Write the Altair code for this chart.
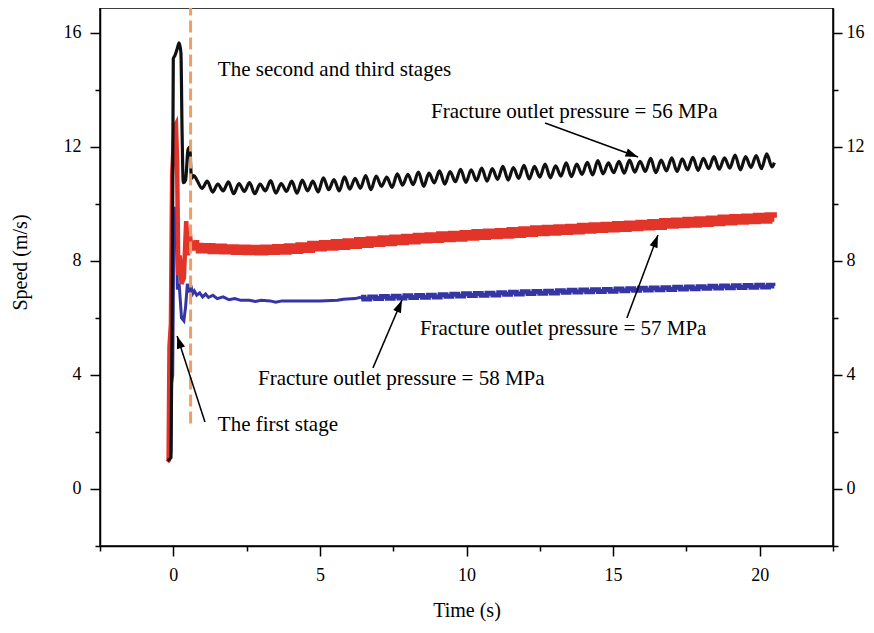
import altair as alt
import pandas as pd

FONT = "Liberation Serif"

# ---------------- data ----------------
black_t = [-0.20, -0.08, -0.04, 0.00, 0.05, 0.12, 0.20, 0.26, 0.30, 0.34, 0.42, 0.50, 0.56, 0.62, 0.70,
           0.80, 0.98, 1.16, 1.34, 1.52, 1.70, 1.88, 2.06, 2.24, 2.42,
           2.60, 2.78, 2.96, 3.14, 3.32, 3.50, 3.68, 3.86, 4.04, 4.22,
           4.40, 4.58, 4.76, 4.94, 5.12, 5.30, 5.48, 5.66, 5.84, 6.02,
           6.20, 6.38, 6.56, 6.74, 6.92, 7.10, 7.28, 7.46, 7.64, 7.82,
           8.00, 8.18, 8.36, 8.54, 8.72, 8.90, 9.08, 9.26, 9.44, 9.62,
           9.80, 9.98, 10.16, 10.34, 10.52, 10.70, 10.88, 11.06, 11.24, 11.42,
           11.60, 11.78, 11.96, 12.14, 12.32, 12.50, 12.68, 12.86, 13.04, 13.22,
           13.40, 13.58, 13.76, 13.94, 14.12, 14.30, 14.48, 14.66, 14.84, 15.02,
           15.20, 15.38, 15.56, 15.74, 15.92, 16.10, 16.28, 16.46, 16.64, 16.82,
           17.00, 17.18, 17.36, 17.54, 17.72, 17.90, 18.08, 18.26, 18.44, 18.62,
           18.80, 18.98, 19.16, 19.34, 19.52, 19.70, 19.88, 20.06, 20.24, 20.42,
           20.50]
black_v = [1.0, 1.1, 6.0, 15.1, 15.2, 15.4, 15.65, 15.3, 12.5, 10.75, 10.85, 11.9, 12.0, 10.9, 11.0,
           10.85, 10.55, 10.80, 10.42, 10.70, 10.46, 10.78, 10.36, 10.72, 10.44,
           10.75, 10.36, 10.70, 10.46, 10.82, 10.38, 10.72, 10.44, 10.80, 10.38,
           10.84, 10.46, 10.80, 10.42, 10.92, 10.50, 10.86, 10.46, 10.95, 10.52,
           10.90, 10.55, 11.00, 10.50, 10.98, 10.62, 10.94, 10.58, 11.06, 10.66,
           11.04, 10.68, 11.12, 10.62, 11.08, 10.74, 11.16, 10.70, 11.14, 10.78,
           11.22, 10.76, 11.20, 10.82, 11.26, 10.80, 11.24, 10.86, 11.32, 10.84,
           11.28, 10.90, 11.36, 10.88, 11.32, 10.94, 11.40, 10.92, 11.34, 10.98,
           11.44, 10.96, 11.40, 11.04, 11.46, 11.02, 11.52, 11.06, 11.44, 11.10,
           11.50, 11.08, 11.54, 11.12, 11.50, 11.14, 11.60, 11.10, 11.54, 11.16,
           11.62, 11.14, 11.58, 11.20, 11.64, 11.18, 11.60, 11.24, 11.66, 11.22,
           11.62, 11.26, 11.72, 11.20, 11.66, 11.28, 11.70, 11.24, 11.76, 11.30,
           11.45]

red_t = [-0.20, -0.16, -0.13, -0.08, -0.04, 0.04, 0.09, 0.13, 0.17, 0.22, 0.28, 0.36, 0.44, 0.50, 0.56, 0.62, 0.70,
         0.8, 1.0, 1.2, 1.4, 1.6, 1.8, 2.0, 2.2, 2.4, 2.6,
         2.8, 3.0, 3.2, 3.4, 3.6, 3.8, 4.0, 4.2, 4.4, 4.6,
         4.8, 5.0, 5.2, 5.4, 5.6, 5.8, 6.0, 6.2, 6.4, 6.6,
         6.8, 7.0, 7.2, 7.4, 7.6, 7.8, 8.0, 8.2, 8.4, 8.6,
         8.8, 9.0, 9.2, 9.4, 9.6, 9.8, 10.0, 10.2, 10.4, 10.6,
         10.8, 11.0, 11.2, 11.4, 11.6, 11.8, 12.0, 12.2, 12.4, 12.6,
         12.8, 13.0, 13.2, 13.4, 13.6, 13.8, 14.0, 14.2, 14.4, 14.6,
         14.8, 15.0, 15.2, 15.4, 15.6, 15.8, 16.0, 16.2, 16.4, 16.6,
         16.8, 17.0, 17.2, 17.4, 17.6, 17.8, 18.0, 18.2, 18.4, 18.6,
         18.8, 19.0, 19.2, 19.4, 19.6, 19.8, 20.0, 20.2, 20.4,
         20.5]
red_v = [0.95, 1.0, 5.0, 5.8, 11.0, 12.7, 12.8, 11.5, 7.5, 8.2, 7.2, 7.4, 9.4, 8.2, 9.0, 8.4, 8.6,
         8.50, 8.40, 8.49, 8.38, 8.47, 8.37, 8.45, 8.35, 8.44, 8.34,
         8.43, 8.33, 8.44, 8.35, 8.46, 8.36, 8.48, 8.39, 8.52, 8.42,
         8.57, 8.47, 8.60, 8.50, 8.63, 8.53, 8.66, 8.56, 8.70, 8.60,
         8.73, 8.63, 8.76, 8.66, 8.79, 8.69, 8.82, 8.72, 8.85, 8.75,
         8.87, 8.77, 8.90, 8.80, 8.92, 8.82, 8.95, 8.85, 8.98, 8.88,
         9.00, 8.90, 9.02, 8.92, 9.05, 8.95, 9.08, 8.98, 9.11, 9.01,
         9.13, 9.03, 9.15, 9.05, 9.17, 9.07, 9.20, 9.10, 9.22, 9.12,
         9.24, 9.14, 9.26, 9.16, 9.28, 9.18, 9.31, 9.21, 9.33, 9.23,
         9.37, 9.27, 9.39, 9.29, 9.41, 9.31, 9.43, 9.33, 9.46, 9.36,
         9.49, 9.39, 9.51, 9.41, 9.53, 9.43, 9.55, 9.45, 9.57,
         9.52]

blue_t = [-0.10, -0.08, -0.06, -0.02, 0.02, 0.06, 0.10, 0.14, 0.20, 0.28, 0.36, 0.42, 0.48, 0.54, 0.60, 0.66, 0.72, 0.80,
          0.9, 1.0, 1.1, 1.2, 1.35, 1.5, 1.7, 1.9, 2.1, 2.3, 2.6, 2.8, 3.0, 3.3, 3.5, 3.7, 4.5, 5.0, 5.6, 5.8, 6.2,
          6.4, 6.6, 6.8, 7.0, 7.2, 7.4, 7.6, 7.8, 8.0, 8.2,
          8.4, 8.6, 8.8, 9.0, 9.2, 9.4, 9.6, 9.8, 10.0, 10.2,
          10.4, 10.6, 10.8, 11.0, 11.2, 11.4, 11.6, 11.8, 12.0, 12.2,
          12.4, 12.6, 12.8, 13.0, 13.2, 13.4, 13.6, 13.8, 14.0, 14.2,
          14.4, 14.6, 14.8, 15.0, 15.2, 15.4, 15.6, 15.8, 16.0, 16.2,
          16.4, 16.6, 16.8, 17.0, 17.2, 17.4, 17.6, 17.8, 18.0, 18.2,
          18.4, 18.6, 18.8, 19.0, 19.2, 19.4, 19.6, 19.8, 20.0, 20.2, 20.4,
          20.5]
blue_v = [1.2, 1.3, 3.7, 4.0, 9.2, 9.9, 9.6, 7.0, 7.2, 6.0, 5.9, 6.4, 7.2, 6.9, 7.15, 6.85, 6.95, 6.80,
          6.88, 6.74, 6.84, 6.72, 6.80, 6.68, 6.74, 6.64, 6.68, 6.62, 6.62, 6.58, 6.62, 6.60, 6.55, 6.60, 6.60, 6.60, 6.62, 6.66, 6.68,
          6.73, 6.67, 6.74, 6.68, 6.75, 6.69, 6.76, 6.70, 6.78, 6.72,
          6.79, 6.73, 6.80, 6.74, 6.82, 6.76, 6.83, 6.77, 6.85, 6.79,
          6.86, 6.80, 6.87, 6.81, 6.89, 6.83, 6.90, 6.84, 6.92, 6.86,
          6.93, 6.87, 6.94, 6.88, 6.96, 6.90, 6.97, 6.91, 6.98, 6.92,
          6.99, 6.93, 7.00, 6.94, 7.02, 6.96, 7.03, 6.97, 7.04, 6.98,
          7.05, 6.99, 7.06, 7.00, 7.08, 7.02, 7.09, 7.03, 7.10, 7.04,
          7.11, 7.05, 7.12, 7.06, 7.13, 7.07, 7.14, 7.08, 7.15, 7.09, 7.15,
          7.12]

x_major = [0, 5, 10, 15, 20]
x_minor = [-2.5, 2.5, 7.5, 12.5, 17.5, 22.5]
y_major = [0, 4, 8, 12, 16]
y_minor = [-2, 2, 6, 10, 14]

stage_x = [0.59]
stage_y = [2.3]
stage_y2 = [16.877]

label_text = ["The second and third stages",
              "Fracture outlet pressure = 56 MPa",
              "Fracture outlet pressure = 57 MPa",
              "Fracture outlet pressure = 58 MPa",
              "The first stage"]
label_x = [1.52, 8.79, 8.41, 2.89, 1.52]
label_y = [14.70, 13.23, 5.61, 3.86, 2.25]

arrow_x1 = [12.68, 15.47, 6.81, 1.08]
arrow_y1 = [12.84, 6.00, 4.25, 2.35]
arrow_x2 = [15.85, 16.53, 7.80, 0.13]
arrow_y2 = [11.65, 8.91, 6.63, 5.37]
arrow_angle = [111, 20.5, 23.1, 342]

# ---------------- tables ----------------
df_black = pd.DataFrame({"t": black_t, "v": black_v})
df_red = pd.DataFrame({"t": red_t, "v": red_v})
df_blue = pd.DataFrame({"t": blue_t, "v": blue_v})
df_stage = pd.DataFrame({"x": stage_x, "y": stage_y, "y2": stage_y2})
df_lab = pd.DataFrame({"x": label_x, "y": label_y, "label": label_text})
df_arr = pd.DataFrame({"x1": arrow_x1, "y1": arrow_y1, "x2": arrow_x2, "y2": arrow_y2, "a": arrow_angle})

xs = alt.Scale(domain=[-2.5, 22.5], nice=False, zero=False)
ys = alt.Scale(domain=[-2, 16.877], nice=False, zero=False)

minor = dict(labels=False, domain=False, grid=False, tickColor="black", tickWidth=1.5)

ax_bottom = alt.Axis(orient="bottom", values=x_major, tickSize=10, labelPadding=10,
                     titleY=64, titleBaseline="middle")
ax_bottom_minor = alt.Axis(orient="bottom", values=x_minor, tickSize=5, **minor)
ax_left = alt.Axis(orient="left", values=y_major, tickSize=10, labelPadding=9,
                   titleX=-80, titleY=254, titleBaseline="middle", titleAlign="center")
ax_left_minor = alt.Axis(orient="left", values=y_minor, tickSize=5, **minor)
ax_right = alt.Axis(orient="right", values=y_major, tickSize=9, labelPadding=4)
ax_right_minor = alt.Axis(orient="right", values=y_minor, tickSize=5, **minor)

blue_early = alt.Chart(df_blue).transform_filter(alt.datum.t <= 6.4).mark_line(
    color="#3535A5", strokeWidth=3).encode(
    x=alt.X("t:Q", scale=xs, axis=ax_bottom_minor, title=None),
    y=alt.Y("v:Q", scale=ys, axis=ax_left_minor, title=None),
)
blue_late = alt.Chart(df_blue).transform_filter(alt.datum.t >= 6.4).mark_line(
    color="#3535A5", strokeWidth=5, interpolate="step").encode(
    x=alt.X("t:Q", scale=xs, axis=None),
    y=alt.Y("v:Q", scale=ys, axis=None),
)
red_early = alt.Chart(df_red).transform_filter(alt.datum.t <= 0.8).mark_line(
    color="#E3342A", strokeWidth=4.5).encode(
    x=alt.X("t:Q", scale=xs, axis=None),
    y=alt.Y("v:Q", scale=ys, axis=ax_right, title=None),
)
red_late = alt.Chart(df_red).transform_filter(alt.datum.t >= 0.7).mark_line(
    color="#E3342A", strokeWidth=8, interpolate="step").encode(
    x=alt.X("t:Q", scale=xs, axis=None),
    y=alt.Y("v:Q", scale=ys, axis=None),
)
black = alt.Chart(df_black).mark_line(color="#111111", strokeWidth=3.2, interpolate="monotone").encode(
    x=alt.X("t:Q", scale=xs, axis=ax_bottom, title="Time (s)"),
    y=alt.Y("v:Q", scale=ys, axis=ax_left, title="Speed (m/s)"),
)
stage = alt.Chart(df_stage).mark_rule(color="#EBA066", strokeWidth=3, strokeDash=[12, 5]).encode(
    x=alt.X("x:Q", scale=xs, axis=None),
    y=alt.Y("y:Q", scale=ys, axis=ax_right_minor, title=None),
    y2="y2:Q",
)
labels = alt.Chart(df_lab).mark_text(align="left", baseline="middle", font=FONT, fontSize=21,
                                     color="black").encode(
    x=alt.X("x:Q", scale=xs, axis=None),
    y=alt.Y("y:Q", scale=ys, axis=None),
    text="label:N",
)
arrow_lines = alt.Chart(df_arr).mark_rule(color="black", strokeWidth=1.5).encode(
    x=alt.X("x1:Q", scale=xs, axis=None),
    y=alt.Y("y1:Q", scale=ys, axis=None),
    x2="x2:Q",
    y2="y2:Q",
)
arrow_heads = alt.Chart(df_arr).mark_point(shape="M0,0 L-0.42,1.25 L0.42,1.25 Z", filled=True, size=400,
                                           color="black", opacity=1, strokeWidth=0).encode(
    x=alt.X("x2:Q", scale=xs, axis=None),
    y=alt.Y("y2:Q", scale=ys, axis=None),
    angle=alt.Angle("a:Q", scale=None),
)

chart = alt.layer(blue_early, blue_late, red_early, red_late, black, stage,
                  arrow_lines, arrow_heads, labels).resolve_axis(
    x="independent", y="independent"
).properties(
    width=733, height=538,
    autosize=alt.AutoSizeParams(type="none"),
    padding={"left": 92, "top": 0, "right": 33, "bottom": 79},
    background="white",
).configure_view(
    stroke="black", strokeWidth=1.5
).configure_axis(
    grid=False, domainColor="black", domainWidth=1.5, tickColor="black", tickWidth=1.5,
    labelFont=FONT, labelFontSize=18, labelColor="black",
    titleFont=FONT, titleFontSize=20, titleFontWeight="normal", titleColor="black",
)

chart.save("out.html", embed_options={"renderer": "svg", "actions": False})
